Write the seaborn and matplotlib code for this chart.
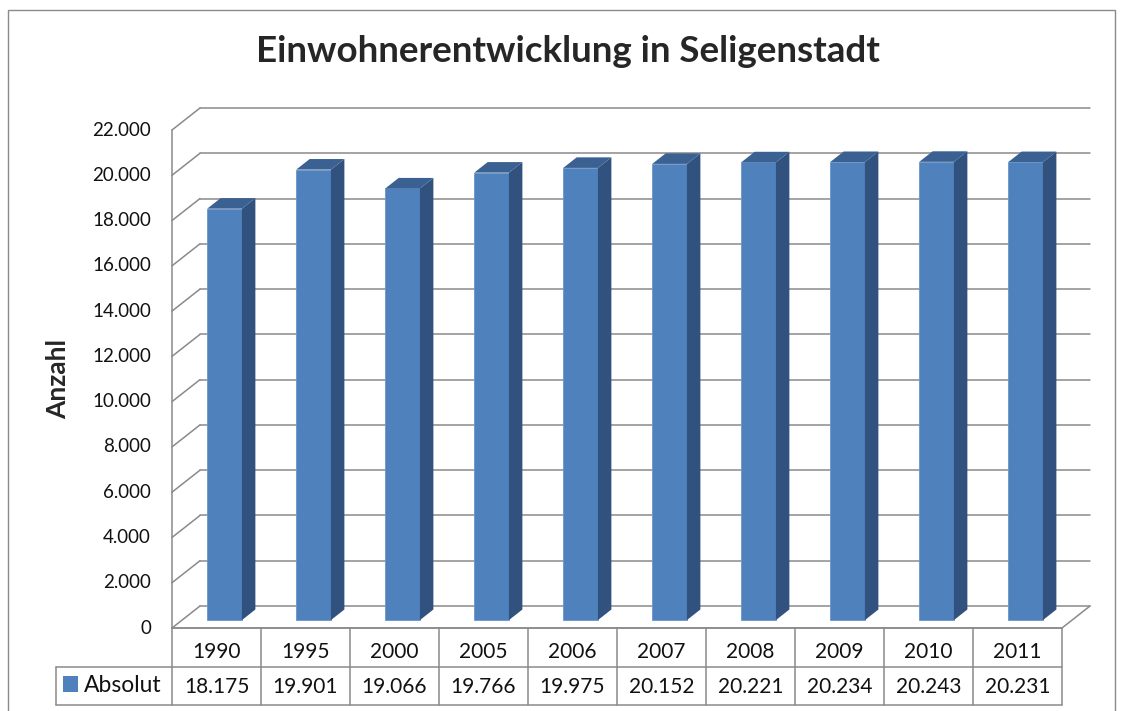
import matplotlib
matplotlib.use("Agg")
import matplotlib.pyplot as plt
from matplotlib.patches import Polygon, Rectangle
import seaborn as sns

years = ["1990", "1995", "2000", "2005", "2006", "2007", "2008", "2009", "2010", "2011"]
absolut = [18175, 19901, 19066, 19766, 19975, 20152, 20221, 20234, 20243, 20231]
y_ticks = list(range(0, 22001, 2000))

title = "Einwohnerentwicklung in Seligenstadt"
y_label = "Anzahl"
series_name = "Absolut"


def de(v):
    # German thousands separator
    return f"{v:,.0f}".replace(",", ".")


sns.set_style("white")
plt.rcParams['font.family'] = ['Lato', 'DejaVu Sans']

W, H = 1123, 711
fig = plt.figure(figsize=(W / 100, H / 100), dpi=100)

# axes = front plane of the 3d chart (pixel box)
L, R, B, T = 172, 1062, 628, 130
ax = fig.add_axes([L / W, 1 - B / H, (R - L) / W, (B - T) / H])

px_x = len(years) / (R - L)   # data units per pixel
px_y = 22000 / (B - T)
DX, DY = 28 * px_x, 22 * px_y  # full depth of the box


def xp(p):
    return (p - L) * px_x - 0.5


def yp(p):
    return (B - p) * px_y


grid_c = '#8a8a8a'
txt_c = '#111111'
x0, x1 = -0.5, len(years) - 0.5

# back wall, left wall and floor
for v in y_ticks:
    ax.plot([x0 + DX, x1 + DX], [v + DY, v + DY], color=grid_c, lw=1.1, zorder=1, clip_on=False)
    ax.plot([x0, x0 + DX], [v, v + DY], color=grid_c, lw=1.1, zorder=1, clip_on=False)
    ax.text(xp(151), v, de(v), ha='right', va='center', fontsize=13.5, color=txt_c)
ax.plot([x0, x0], [0, 22000], color=grid_c, lw=1.1, zorder=1, clip_on=False)
ax.plot([x0, x1], [0, 0], color=grid_c, lw=1.1, zorder=1, clip_on=False)
ax.plot([x1, x1 + DX], [0, DY], color=grid_c, lw=1.1, zorder=1, clip_on=False)

# bars (front faces), then shifted into depth with side and top faces
sns.barplot(x=years, y=absolut, color='#4F81BD', saturation=1, width=0.39,
            ax=ax, zorder=3, edgecolor='#6A95C9', linewidth=0.6)
z0, dz = 0.36, 0.48
for p in ax.patches:
    bx, bw, bh = p.get_x() + z0 * DX - 2 * px_x, p.get_width(), p.get_height()
    by = z0 * DY
    p.set_x(bx)
    p.set_y(by)
    side = [(bx + bw, by), (bx + bw, by + bh), (bx + bw + dz * DX, by + bh + dz * DY),
            (bx + bw + dz * DX, by + dz * DY)]
    top = [(bx, by + bh), (bx + bw, by + bh), (bx + bw + dz * DX, by + bh + dz * DY),
           (bx + dz * DX, by + bh + dz * DY)]
    ax.add_patch(Polygon(side, closed=True, fc='#31527F', ec='none', zorder=3, clip_on=False))
    ax.add_patch(Polygon(top, closed=True, fc='#3A6192', ec='none', zorder=3, clip_on=False))

ax.set_xlim(x0, x1)
ax.set_ylim(0, 22000)
ax.axis('off')

# data table below the plot
row1, row2, row3 = 628, 667, 705
ax.plot([x0, x1], [yp(row1)] * 2, color=grid_c, lw=1.1, clip_on=False)
for r in (row2, row3):
    ax.plot([xp(56), x1], [yp(r)] * 2, color=grid_c, lw=1.1, clip_on=False)
for i in range(len(years) + 1):
    ax.plot([i - 0.5, i - 0.5], [yp(row1), yp(row3)], color=grid_c, lw=1.1, clip_on=False)
ax.plot([xp(56), xp(56)], [yp(row2), yp(row3)], color=grid_c, lw=1.1, clip_on=False)
for i, (yr, v) in enumerate(zip(years, absolut)):
    ax.text(i, yp(652), yr, ha='center', va='center', fontsize=15, color=txt_c, clip_on=False)
    ax.text(i, yp(687), de(v), ha='center', va='center', fontsize=15, color=txt_c, clip_on=False)
ax.add_patch(Rectangle((xp(63), yp(692)), 15 * px_x, 16 * px_y, fc='#4F81BD', ec='none', clip_on=False))
ax.text(xp(84), yp(686), series_name, ha='left', va='center', fontsize=16.5, color=txt_c, clip_on=False)

# titles
fig.text(568 / W, 1 - 52 / H, title, ha='center', va='center', fontsize=26.5, fontweight='bold')
fig.text(58 / W, 1 - 379 / H, y_label, ha='center', va='center', rotation=90,
         fontsize=19, fontweight='bold')

# chart area border
fig.add_artist(Rectangle((8 / W, -0.05), (1115 - 8) / W, 1.05 - 10 / H, transform=fig.transFigure,
                         fill=False, ec=grid_c, lw=1.0))

fig.savefig('out.png', dpi=100)
